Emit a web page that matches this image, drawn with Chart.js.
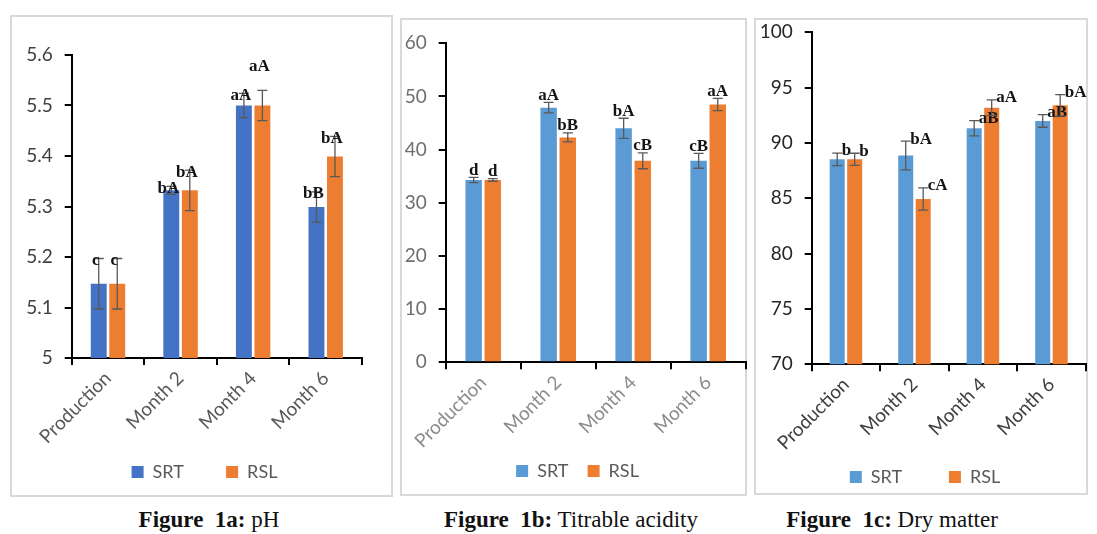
<!DOCTYPE html>
<html lang="en">
<head>
<meta charset="UTF-8">
<title>Figure 1</title>
<style>
  body {
    margin: 0;
    background: #fff;
    width: 1097px;
    height: 534px;
    position: relative;
    overflow: hidden;
  }
  .frame {
    position: absolute;
    border: 2px solid #d9d9d9;
    box-sizing: border-box;
  }
  canvas {
    position: absolute;
    top: 0;
  }
  .caption {
    position: absolute;
    top: 507px;
    width: 400px;
    text-align: center;
    font-family: 'Liberation Serif', 'Times New Roman', serif;
    font-size: 23px;
    color: #111;
    white-space: pre;
  }
</style>
</head>
<body>
<div class="frame" style="left:10px;top:15px;width:383px;height:482px"></div>
<div class="frame" style="left:400px;top:18px;width:347px;height:478px"></div>
<div class="frame" style="left:754px;top:18px;width:334px;height:477px"></div>

<canvas id="phChart" style="left:0px" width="409" height="500"></canvas>
<canvas id="taChart" style="left:395px" width="365" height="500"></canvas>
<canvas id="dmChart" style="left:750px" width="350" height="500"></canvas>

<div class="caption" style="left:9px"><b>Figure  1a:</b> pH</div>
<div class="caption" style="left:371px"><b>Figure  1b:</b> Titrable acidity</div>
<div class="caption" style="left:692px"><b>Figure  1c:</b> Dry matter</div>

<script src="https://cdn.jsdelivr.net/npm/chart.js"></script>
<script>
  const categories = ['Production', 'Month 2', 'Month 4', 'Month 6'];
  const seriesNames = ['SRT', 'RSL'];

  // Figure 1a: pH
  const phSRT = [5.147, 5.332, 5.5, 5.299];
  const phRSL = [5.147, 5.332, 5.5, 5.399];
  const phSRTErr = [0.05, 0.008, 0.024, 0.03];
  const phRSLErr = [0.05, 0.04, 0.03, 0.04];
  const phSRTLetters = ['c', 'bA', 'aA', 'bB'];
  const phRSLLetters = ['c', 'bA', 'aA', 'bA'];
  const phTicks = [5, 5.1, 5.2, 5.3, 5.4, 5.5, 5.6];

  // Figure 1b: titrable acidity
  const taSRT = [34.3, 47.9, 44.0, 37.9];
  const taRSL = [34.3, 42.3, 37.9, 48.5];
  const taSRTErr = [0.5, 1.0, 1.9, 1.4];
  const taRSLErr = [0.25, 0.85, 1.5, 1.15];
  const taSRTLetters = ['d', 'aA', 'bA', 'cB'];
  const taRSLLetters = ['d', 'bB', 'cB', 'aA'];
  const taTicks = [0, 10, 20, 30, 40, 50, 60];

  // Figure 1c: dry matter
  const dmSRT = [88.52, 88.86, 91.33, 91.99];
  const dmRSL = [88.52, 84.94, 93.19, 93.4];
  const dmSRTErr = [0.57, 1.3, 0.69, 0.57];
  const dmRSLErr = [0.55, 1.0, 0.7, 0.97];
  const dmSRTLetters = ['b', 'bA', 'aB', 'aB'];
  const dmRSLLetters = ['b', 'cA', 'aA', 'bA'];
  const dmTicks = [70, 75, 80, 85, 90, 95, 100];

  // error bars + significance letters (letters pushed up if they would collide)
  const errorLetters = {
    id: 'errorLetters',
    afterDatasetsDraw(chart, args, opts) {
      const ctx = chart.ctx;
      const y = chart.scales.y;
      const placed = [];
      chart.data.datasets.forEach((ds, i) => {
        chart.getDatasetMeta(i).data.forEach((bar, j) => {
          const v = ds.data[j], e = ds.errors[j];
          const top = y.getPixelForValue(v + e);
          const bot = y.getPixelForValue(v - e);
          ctx.save();
          ctx.strokeStyle = '#595959';
          ctx.lineWidth = 1.3;
          ctx.beginPath();
          ctx.moveTo(bar.x, top); ctx.lineTo(bar.x, bot);
          ctx.moveTo(bar.x - 5, top); ctx.lineTo(bar.x + 5, top);
          ctx.moveTo(bar.x - 5, bot); ctx.lineTo(bar.x + 5, bot);
          ctx.stroke();

          ctx.font = 'bold 17px "Liberation Serif"';
          ctx.fillStyle = '#141414';
          ctx.textBaseline = 'middle';
          const txt = ds.letters[j];
          const w = ctx.measureText(txt).width;
          let cx, cy;
          if (opts.side) {
            cx = bar.x + bar.width / 2 - 3 + w / 2;
            cy = top - 2;
          } else {
            cx = bar.x + opts.dx;
            cy = top + opts.dy;
          }
          const hit = b => Math.abs(b.cx - cx) < (b.w + w) / 2 + 2 && Math.abs(b.cy - cy) < 13;
          while (placed.some(hit)) cy -= 26;
          placed.push({ cx, cy, w });
          ctx.textAlign = 'center';
          ctx.fillText(txt, cx, cy);
          ctx.restore();
        });
      });
    }
  };

  function makePanel(id, srt, rsl, srtErr, rslErr, srtL, rslL, ticks, look) {
    const canvas = document.getElementById(id);
    const left = parseFloat(canvas.style.left);
    const W = canvas.width, H = canvas.height;
    const fontSize = 18, legendPad = 10;
    const legendH = fontSize + legendPad + 10;
    const legendRight = 2 * look.legendX - left;
    const padR = left + W - legendRight;
    const y2W = legendRight - look.axisEnd;
    const padB = H - look.legendY - fontSize / 2 - 10;
    const yW = look.axisX - left;
    const xH = H - padB - legendH - look.bottom;

    // widen the gap between the two legend items
    const m = canvas.getContext('2d');
    m.font = fontSize + 'px Lato';
    const gapFill = ' '.repeat(Math.max(0, Math.round((look.legendGap - legendPad) / m.measureText(' ').width)));

    return new Chart(canvas, {
      type: 'bar',
      data: {
        labels: categories,
        datasets: [
          { label: seriesNames[0], data: srt, errors: srtErr, letters: srtL, backgroundColor: look.srtColor },
          { label: seriesNames[1], data: rsl, errors: rslErr, letters: rslL, backgroundColor: '#ED7D31' }
        ]
      },
      options: {
        responsive: false,
        devicePixelRatio: 1,
        animation: false,
        categoryPercentage: 0.51,
        barPercentage: 0.86,
        layout: { padding: { left: 0, right: padR, top: look.top, bottom: padB } },
        plugins: {
          legend: {
            position: 'bottom',
            labels: {
              boxWidth: 12,
              boxHeight: 12,
              padding: legendPad,
              color: '#595959',
              font: { family: 'Lato', size: fontSize },
              generateLabels: chart => Chart.defaults.plugins.legend.labels.generateLabels(chart)
                .map((item, i) => { if (i === 0) item.text += gapFill; return item; })
            }
          },
          tooltip: { enabled: false },
          errorLetters: look.letters
        },
        scales: {
          x: {
            grid: { offset: true, drawOnChartArea: false, tickLength: 7, color: '#000', lineWidth: 2 },
            border: { color: '#000', width: 2 },
            ticks: {
              minRotation: 45,
              maxRotation: 45,
              color: look.xColor,
              padding: 2,
              font: { family: 'Lato', size: 19 }
            },
            afterFit: s => { s.height = xH; }
          },
          y: {
            min: ticks[0],
            max: ticks[ticks.length - 1],
            grid: { drawOnChartArea: false, tickLength: 7, color: '#000', lineWidth: 2 },
            border: { color: '#000', width: 2 },
            ticks: {
              color: look.yColor,
              padding: 12,
              font: { family: 'Lato', size: 19 },
              callback: v => String(v)
            },
            afterBuildTicks: s => { s.ticks = ticks.map(v => ({ value: v })); },
            afterFit: s => { s.width = yW; }
          },
          // empty right-hand spacer so the legend sits where the original has it
          spacer: {
            position: 'right',
            grid: { display: false },
            border: { display: false },
            ticks: { display: false },
            afterFit: s => { s.width = y2W; }
          }
        }
      },
      plugins: [errorLetters]
    });
  }

  makePanel('phChart', phSRT, phRSL, phSRTErr, phRSLErr, phSRTLetters, phRSLLetters, phTicks, {
    axisX: 71.7, axisEnd: 362, top: 55, bottom: 358,
    legendX: 204.5, legendY: 472, legendGap: 42,
    srtColor: '#4472C4', xColor: '#595959', yColor: '#404040',
    letters: { dx: -3, dy: 2 }
  });

  makePanel('taChart', taSRT, taRSL, taSRTErr, taRSLErr, taSRTLetters, taRSLLetters, taTicks, {
    axisX: 445.7, axisEnd: 745.7, top: 43.3, bottom: 362.3,
    legendX: 577.5, legendY: 471, legendGap: 20,
    srtColor: '#5B9BD5', xColor: '#8c8c8c', yColor: '#6e6e6e',
    letters: { dx: 0, dy: -7 }
  });

  makePanel('dmChart', dmSRT, dmRSL, dmSRTErr, dmRSLErr, dmSRTLetters, dmRSLLetters, dmTicks, {
    axisX: 811.7, axisEnd: 1085.7, top: 32.3, bottom: 364.3,
    legendX: 925, legendY: 477, legendGap: 49,
    srtColor: '#5B9BD5', xColor: '#404040', yColor: '#262626',
    letters: { side: true }
  });
</script>
</body>
</html>
